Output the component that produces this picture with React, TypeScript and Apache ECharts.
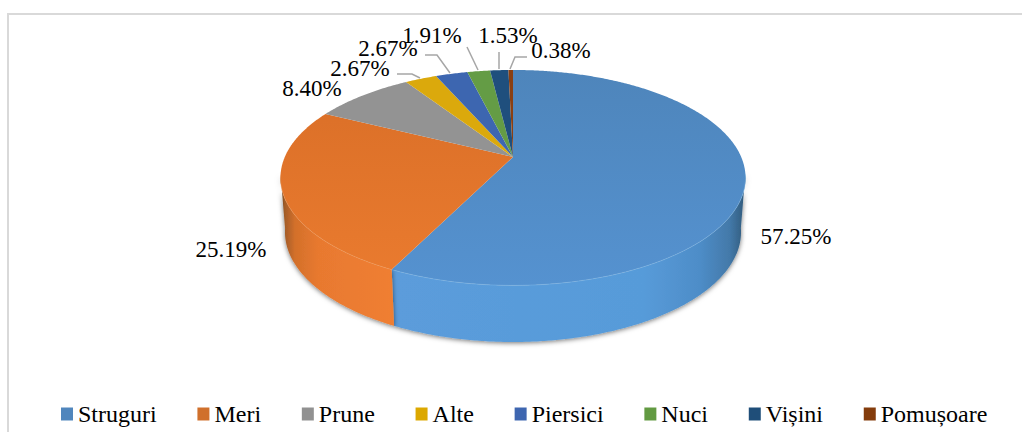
import React, { useEffect, useRef } from "react";
import * as echarts from "echarts";

const categories = ["Struguri", "Meri", "Prune", "Alte", "Piersici", "Nuci", "Vișini", "Pomușoare"];
const shares = [57.25, 25.19, 8.4, 2.67, 2.67, 1.91, 1.53, 0.38];
const legendColors = ["#5086bd", "#d0702c", "#919191", "#dca800", "#3e66b0", "#629a42", "#1f4e79", "#843c0c"];
const topFaceStops = [
  ["#4e85bb", "#5592d0"],
  ["#d96e27", "#ea7b2f"],
  ["#939393", "#939393"],
  ["#dba90c", "#dba90c"],
  ["#3d66b0", "#3d66b0"],
  ["#649c45", "#649c45"],
  ["#1f4f7d", "#1f4f7d"],
  ["#8a3f12", "#8a3f12"],
];
const labelPositions = [
  [796, 236],
  [231, 249],
  [312, 88],
  [360, 68],
  [388, 48],
  [432, 35],
  [508, 35],
  [561, 50],
];
const leaderLines: number[][][] = [
  [],
  [],
  [],
  [[397, 74], [412, 74], [420, 78]],
  [[425, 55], [437, 55], [450, 73]],
  [[467, 47], [478, 70]],
  [[499, 52], [499, 69]],
  [[527, 57], [515, 57], [510, 69]],
];

const total = shares.reduce((a, b) => a + b, 0);

// perspective projection of the pie disc (apex at the projected centre)
const cx = 513;
const apexY = 157;
const persp = -0.192;
const depthA = 73.6;
const widthK = 228.2;
const topEllipse = { cy: 177.7, rx: 232.5, ry: 107.7 };
const bottomEllipse = { cy: 232, rx: 228, ry: 110 };

function project(theta: number) {
  const sx = Math.sin(theta);
  const u = -Math.cos(theta);
  const d = 1 + persp * u;
  return [cx + (widthK * sx) / d, (depthA * u + apexY) / d];
}
function dropToBottom(p: number[]) {
  const nx = (p[0] - cx) / topEllipse.rx;
  const ny = (p[1] - topEllipse.cy) / topEllipse.ry;
  return [cx + nx * bottomEllipse.rx, bottomEllipse.cy + ny * bottomEllipse.ry];
}

function sliceRange(i: number) {
  let before = 0;
  for (let k = 0; k < i; k++) before += shares[k];
  return [before / total, (before + shares[i]) / total];
}

function wallGradient(i: number) {
  const stops =
    i === 0
      ? [
          [0.24, "#5b9cdb"],
          [0.78, "#579bd9"],
          [0.9, "#4e8dc8"],
          [0.965, "#4379a9"],
          [1, "#2f5878"],
        ]
      : [
          [0, "#6d4524"],
          [0.008, "#a35c28"],
          [0.03, "#d3702b"],
          [0.08, "#e8792f"],
          [0.25, "#f07f33"],
          [1, "#f07f33"],
        ];
  return {
    type: "linear",
    x: 281,
    y: 0,
    x2: 746,
    y2: 0,
    global: true,
    colorStops: stops.map(([offset, color]) => ({ offset, color })),
  };
}

function renderSlice(params: any, api: any) {
  const i = params.seriesIndex;
  const value = api.value(0);
  const [a, b0] = sliceRange(i);
  const b = a + value / total;
  const start = a * Math.PI * 2;
  const end = Math.min(b, b0) * Math.PI * 2;
  const step = (0.5 * Math.PI) / 180;
  const arc: number[][] = [];
  for (let t = start; t < end; t += step) arc.push(project(t));
  arc.push(project(end));

  const children: any[] = [];
  const front = arc.filter((p) => p[1] >= topEllipse.cy - 4);
  if (front.length > 1 && i < 2) {
    const lower = front.map(dropToBottom).reverse();
    children.push({
      type: "polygon",
      silent: true,
      shape: { points: [...front, ...lower] },
      style: {
        fill: wallGradient(i),
        shadowBlur: 5,
        shadowColor: "rgba(0,0,0,0.55)",
        shadowOffsetY: 1,
      },
    });
  }
  children.push({
    type: "polygon",
    silent: true,
    shape: { points: [[cx, apexY], ...arc] },
    style: {
      fill: {
        type: "linear",
        x: 0,
        y: 70,
        x2: 0,
        y2: 285,
        global: true,
        colorStops: [
          { offset: 0, color: topFaceStops[i][0] },
          { offset: 1, color: topFaceStops[i][1] },
        ],
      },
    },
  });
  if (front.length > 1 && i < 2) {
    children.push({
      type: "polyline",
      silent: true,
      shape: { points: front },
      style: {
        fill: "none",
        stroke: i === 0 ? "#8dc3ee" : "#f6a263",
        lineWidth: 1,
        opacity: 0.4,
      },
    });
  }
  if (leaderLines[i].length) {
    children.push({
      type: "polyline",
      silent: true,
      shape: { points: leaderLines[i] },
      style: { fill: "none", stroke: "#a6a6a6", lineWidth: 1.5 },
    });
  }
  children.push({
    type: "text",
    silent: true,
    style: {
      x: labelPositions[i][0],
      y: labelPositions[i][1],
      text: value.toFixed(2) + "%",
      fontFamily: "Liberation Serif",
      fontSize: 23,
      fill: "#000",
      align: "center",
      verticalAlign: "middle",
    },
  });
  return { type: "group", children };
}

export default function App() {
  const ref = useRef<HTMLDivElement>(null);
  useEffect(() => {
    document.body.style.margin = "0";
    const chart = echarts.init(ref.current!, null, { renderer: "svg" });
    chart.setOption({
      animation: false,
      backgroundColor: "#fff",
      legend: {
        left: 56,
        top: 397,
        itemWidth: 12,
        itemHeight: 13,
        itemGap: 40.75,
        icon: "rect",
        selectedMode: false,
        data: categories,
        textStyle: { fontFamily: "Liberation Serif", fontSize: 24, color: "#000" },
      },
      graphic: [
        {
          type: "polyline",
          silent: true,
          shape: { points: [[8, 432], [8, 14], [1022, 14]] },
          style: { fill: "none", stroke: "#d9d9d9", lineWidth: 2 },
        },
      ],
      series: categories.map((name, i) => ({
        type: "custom",
        name,
        coordinateSystem: "none",
        silent: true,
        itemStyle: { color: legendColors[i] },
        data: [[shares[i]]],
        renderItem: renderSlice,
      })),
    });
    return () => chart.dispose();
  }, []);
  return <div ref={ref} style={{ position: "absolute", left: 0, top: 0, width: 1022, height: 432 }} />;
}
